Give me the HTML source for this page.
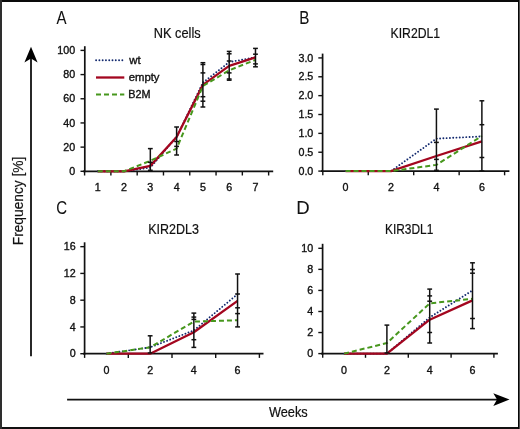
<!DOCTYPE html>
<html><head><meta charset="utf-8"><style>
html,body{margin:0;padding:0;background:#fff;}
body{width:520px;height:429px;overflow:hidden;}
svg{display:block;will-change:transform;}
text{font-family:"Liberation Sans", sans-serif;fill:#111;stroke:#111;stroke-width:0.35px;}
text.L{stroke-width:0.05px;}
text.T{stroke-width:0.2px;}
</style></head><body>
<svg width="520" height="429" viewBox="0 0 520 429">
<rect x="0" y="0" width="520" height="429" fill="#fff"/>
<line x1="84.80" y1="46.20" x2="84.80" y2="172.15" stroke="#111" stroke-width="1.7"/>
<line x1="83.00" y1="171.30" x2="273.20" y2="171.30" stroke="#111" stroke-width="1.7"/>
<line x1="80.50" y1="171.30" x2="84.80" y2="171.30" stroke="#111" stroke-width="1.4"/>
<text x="75.20" y="175.00" font-size="10.7" text-anchor="end">0</text>
<line x1="80.50" y1="147.12" x2="84.80" y2="147.12" stroke="#111" stroke-width="1.4"/>
<text x="75.20" y="150.82" font-size="10.7" text-anchor="end">20</text>
<line x1="80.50" y1="122.94" x2="84.80" y2="122.94" stroke="#111" stroke-width="1.4"/>
<text x="75.20" y="126.64" font-size="10.7" text-anchor="end">40</text>
<line x1="80.50" y1="98.76" x2="84.80" y2="98.76" stroke="#111" stroke-width="1.4"/>
<text x="75.20" y="102.46" font-size="10.7" text-anchor="end">60</text>
<line x1="80.50" y1="74.58" x2="84.80" y2="74.58" stroke="#111" stroke-width="1.4"/>
<text x="75.20" y="78.28" font-size="10.7" text-anchor="end">80</text>
<line x1="80.50" y1="50.40" x2="84.80" y2="50.40" stroke="#111" stroke-width="1.4"/>
<text x="75.20" y="54.10" font-size="10.7" text-anchor="end">100</text>
<line x1="84.60" y1="171.30" x2="84.60" y2="175.50" stroke="#111" stroke-width="1.4"/>
<line x1="110.89" y1="171.30" x2="110.89" y2="175.50" stroke="#111" stroke-width="1.4"/>
<line x1="137.18" y1="171.30" x2="137.18" y2="175.50" stroke="#111" stroke-width="1.4"/>
<line x1="163.47" y1="171.30" x2="163.47" y2="175.50" stroke="#111" stroke-width="1.4"/>
<line x1="189.76" y1="171.30" x2="189.76" y2="175.50" stroke="#111" stroke-width="1.4"/>
<line x1="216.05" y1="171.30" x2="216.05" y2="175.50" stroke="#111" stroke-width="1.4"/>
<line x1="242.34" y1="171.30" x2="242.34" y2="175.50" stroke="#111" stroke-width="1.4"/>
<line x1="268.63" y1="171.30" x2="268.63" y2="175.50" stroke="#111" stroke-width="1.4"/>
<text x="97.74" y="191.00" font-size="10.7" text-anchor="middle">1</text>
<text x="124.03" y="191.00" font-size="10.7" text-anchor="middle">2</text>
<text x="150.32" y="191.00" font-size="10.7" text-anchor="middle">3</text>
<text x="176.62" y="191.00" font-size="10.7" text-anchor="middle">4</text>
<text x="202.90" y="191.00" font-size="10.7" text-anchor="middle">5</text>
<text x="229.19" y="191.00" font-size="10.7" text-anchor="middle">6</text>
<text x="255.48" y="191.00" font-size="10.7" text-anchor="middle">7</text>
<polyline points="97.74,171.30 124.03,171.30 150.32,167.67 176.62,136.84 202.90,82.68 229.19,62.13 255.48,57.29" fill="none" stroke="#12296e" stroke-width="1.9" stroke-linejoin="round" stroke-linecap="round" stroke-dasharray="0.01 3.27"/>
<polyline points="97.74,171.30 124.03,171.30 150.32,165.86 176.62,137.09 202.90,84.86 229.19,65.88 255.48,57.41" fill="none" stroke="#a3061f" stroke-width="2.3" stroke-linejoin="round" stroke-linecap="butt"/>
<polyline points="97.74,171.30 124.03,171.30 150.32,160.78 176.62,148.57 202.90,86.07 229.19,70.35 255.48,59.83" fill="none" stroke="#47971d" stroke-width="2.0" stroke-linejoin="round" stroke-linecap="butt" stroke-dasharray="5 3"/>
<line x1="150.32" y1="148.60" x2="150.32" y2="170.30" stroke="#111" stroke-width="1.5"/>
<line x1="147.92" y1="148.60" x2="152.72" y2="148.60" stroke="#111" stroke-width="1.5"/>
<line x1="147.92" y1="162.30" x2="152.72" y2="162.30" stroke="#111" stroke-width="1.5"/>
<line x1="147.92" y1="170.30" x2="152.72" y2="170.30" stroke="#111" stroke-width="1.5"/>
<line x1="176.62" y1="127.00" x2="176.62" y2="155.00" stroke="#111" stroke-width="1.5"/>
<line x1="174.22" y1="127.00" x2="179.02" y2="127.00" stroke="#111" stroke-width="1.5"/>
<line x1="174.22" y1="141.50" x2="179.02" y2="141.50" stroke="#111" stroke-width="1.5"/>
<line x1="174.22" y1="146.40" x2="179.02" y2="146.40" stroke="#111" stroke-width="1.5"/>
<line x1="174.22" y1="155.00" x2="179.02" y2="155.00" stroke="#111" stroke-width="1.5"/>
<line x1="202.90" y1="62.70" x2="202.90" y2="107.00" stroke="#111" stroke-width="1.5"/>
<line x1="200.50" y1="62.70" x2="205.30" y2="62.70" stroke="#111" stroke-width="1.5"/>
<line x1="200.50" y1="64.50" x2="205.30" y2="64.50" stroke="#111" stroke-width="1.5"/>
<line x1="200.50" y1="72.90" x2="205.30" y2="72.90" stroke="#111" stroke-width="1.5"/>
<line x1="200.50" y1="96.70" x2="205.30" y2="96.70" stroke="#111" stroke-width="1.5"/>
<line x1="200.50" y1="101.20" x2="205.30" y2="101.20" stroke="#111" stroke-width="1.5"/>
<line x1="200.50" y1="107.00" x2="205.30" y2="107.00" stroke="#111" stroke-width="1.5"/>
<line x1="229.19" y1="51.40" x2="229.19" y2="80.20" stroke="#111" stroke-width="1.5"/>
<line x1="226.79" y1="51.40" x2="231.59" y2="51.40" stroke="#111" stroke-width="1.5"/>
<line x1="226.79" y1="53.80" x2="231.59" y2="53.80" stroke="#111" stroke-width="1.5"/>
<line x1="226.79" y1="61.00" x2="231.59" y2="61.00" stroke="#111" stroke-width="1.5"/>
<line x1="226.79" y1="72.90" x2="231.59" y2="72.90" stroke="#111" stroke-width="1.5"/>
<line x1="226.79" y1="79.00" x2="231.59" y2="79.00" stroke="#111" stroke-width="1.5"/>
<line x1="226.79" y1="80.20" x2="231.59" y2="80.20" stroke="#111" stroke-width="1.5"/>
<line x1="255.48" y1="48.40" x2="255.48" y2="66.80" stroke="#111" stroke-width="1.5"/>
<line x1="253.08" y1="48.40" x2="257.88" y2="48.40" stroke="#111" stroke-width="1.5"/>
<line x1="253.08" y1="54.20" x2="257.88" y2="54.20" stroke="#111" stroke-width="1.5"/>
<line x1="253.08" y1="63.90" x2="257.88" y2="63.90" stroke="#111" stroke-width="1.5"/>
<line x1="253.08" y1="66.80" x2="257.88" y2="66.80" stroke="#111" stroke-width="1.5"/>
<text x="56.47" y="23.75" font-size="17.5" textLength="10.06" lengthAdjust="spacingAndGlyphs" class="L">A</text>
<text x="153.75" y="37.65" font-size="14.0" textLength="46.91" lengthAdjust="spacingAndGlyphs" class="T">NK cells</text>
<line x1="322.60" y1="53.60" x2="322.60" y2="171.95" stroke="#111" stroke-width="1.7"/>
<line x1="321.00" y1="171.10" x2="509.40" y2="171.10" stroke="#111" stroke-width="1.7"/>
<line x1="318.30" y1="171.10" x2="322.60" y2="171.10" stroke="#111" stroke-width="1.4"/>
<text x="313.30" y="174.80" font-size="10.7" text-anchor="end">0.0</text>
<line x1="318.30" y1="152.23" x2="322.60" y2="152.23" stroke="#111" stroke-width="1.4"/>
<text x="313.30" y="155.93" font-size="10.7" text-anchor="end">0.5</text>
<line x1="318.30" y1="133.37" x2="322.60" y2="133.37" stroke="#111" stroke-width="1.4"/>
<text x="313.30" y="137.07" font-size="10.7" text-anchor="end">1.0</text>
<line x1="318.30" y1="114.50" x2="322.60" y2="114.50" stroke="#111" stroke-width="1.4"/>
<text x="313.30" y="118.20" font-size="10.7" text-anchor="end">1.5</text>
<line x1="318.30" y1="95.64" x2="322.60" y2="95.64" stroke="#111" stroke-width="1.4"/>
<text x="313.30" y="99.34" font-size="10.7" text-anchor="end">2.0</text>
<line x1="318.30" y1="76.78" x2="322.60" y2="76.78" stroke="#111" stroke-width="1.4"/>
<text x="313.30" y="80.48" font-size="10.7" text-anchor="end">2.5</text>
<line x1="318.30" y1="57.91" x2="322.60" y2="57.91" stroke="#111" stroke-width="1.4"/>
<text x="313.30" y="61.61" font-size="10.7" text-anchor="end">3.0</text>
<line x1="322.80" y1="171.10" x2="322.80" y2="175.30" stroke="#111" stroke-width="1.4"/>
<line x1="368.25" y1="171.10" x2="368.25" y2="175.30" stroke="#111" stroke-width="1.4"/>
<line x1="413.70" y1="171.10" x2="413.70" y2="175.30" stroke="#111" stroke-width="1.4"/>
<line x1="459.15" y1="171.10" x2="459.15" y2="175.30" stroke="#111" stroke-width="1.4"/>
<line x1="504.60" y1="171.10" x2="504.60" y2="175.30" stroke="#111" stroke-width="1.4"/>
<text x="345.53" y="191.00" font-size="10.7" text-anchor="middle">0</text>
<text x="390.98" y="191.00" font-size="10.7" text-anchor="middle">2</text>
<text x="436.43" y="191.00" font-size="10.7" text-anchor="middle">4</text>
<text x="481.88" y="191.00" font-size="10.7" text-anchor="middle">6</text>
<polyline points="345.53,171.10 390.98,171.10 436.43,138.65 481.88,136.39" fill="none" stroke="#12296e" stroke-width="1.9" stroke-linejoin="round" stroke-linecap="round" stroke-dasharray="0.01 3.27"/>
<polyline points="345.53,171.10 390.98,171.10 436.43,156.01 481.88,141.29" fill="none" stroke="#a3061f" stroke-width="2.3" stroke-linejoin="round" stroke-linecap="butt"/>
<polyline points="345.53,171.10 390.98,171.10 436.43,164.87 481.88,136.01" fill="none" stroke="#47971d" stroke-width="2.0" stroke-linejoin="round" stroke-linecap="butt" stroke-dasharray="5 3"/>
<line x1="436.43" y1="109.10" x2="436.43" y2="170.30" stroke="#111" stroke-width="1.5"/>
<line x1="434.03" y1="109.10" x2="438.82" y2="109.10" stroke="#111" stroke-width="1.5"/>
<line x1="434.03" y1="142.40" x2="438.82" y2="142.40" stroke="#111" stroke-width="1.5"/>
<line x1="434.03" y1="159.40" x2="438.82" y2="159.40" stroke="#111" stroke-width="1.5"/>
<line x1="434.03" y1="170.30" x2="438.82" y2="170.30" stroke="#111" stroke-width="1.5"/>
<line x1="481.88" y1="100.80" x2="481.88" y2="171.00" stroke="#111" stroke-width="1.5"/>
<line x1="479.48" y1="100.80" x2="484.27" y2="100.80" stroke="#111" stroke-width="1.5"/>
<line x1="479.48" y1="124.70" x2="484.27" y2="124.70" stroke="#111" stroke-width="1.5"/>
<line x1="479.48" y1="157.50" x2="484.27" y2="157.50" stroke="#111" stroke-width="1.5"/>
<line x1="479.48" y1="171.00" x2="484.27" y2="171.00" stroke="#111" stroke-width="1.5"/>
<text x="299.35" y="23.50" font-size="17.5" textLength="10.15" lengthAdjust="spacingAndGlyphs" class="L">B</text>
<text x="390.50" y="37.90" font-size="14.0" textLength="49.60" lengthAdjust="spacingAndGlyphs" class="T">KIR2DL1</text>
<line x1="84.60" y1="242.30" x2="84.60" y2="354.55" stroke="#111" stroke-width="1.7"/>
<line x1="83.00" y1="353.70" x2="263.50" y2="353.70" stroke="#111" stroke-width="1.7"/>
<line x1="80.30" y1="353.70" x2="84.60" y2="353.70" stroke="#111" stroke-width="1.4"/>
<text x="75.60" y="357.40" font-size="10.7" text-anchor="end">0</text>
<line x1="80.30" y1="326.94" x2="84.60" y2="326.94" stroke="#111" stroke-width="1.4"/>
<text x="75.60" y="330.64" font-size="10.7" text-anchor="end">4</text>
<line x1="80.30" y1="300.18" x2="84.60" y2="300.18" stroke="#111" stroke-width="1.4"/>
<text x="75.60" y="303.88" font-size="10.7" text-anchor="end">8</text>
<line x1="80.30" y1="273.42" x2="84.60" y2="273.42" stroke="#111" stroke-width="1.4"/>
<text x="75.60" y="277.12" font-size="10.7" text-anchor="end">12</text>
<line x1="80.30" y1="246.66" x2="84.60" y2="246.66" stroke="#111" stroke-width="1.4"/>
<text x="75.60" y="250.36" font-size="10.7" text-anchor="end">16</text>
<line x1="84.60" y1="353.70" x2="84.60" y2="357.90" stroke="#111" stroke-width="1.4"/>
<line x1="128.30" y1="353.70" x2="128.30" y2="357.90" stroke="#111" stroke-width="1.4"/>
<line x1="172.00" y1="353.70" x2="172.00" y2="357.90" stroke="#111" stroke-width="1.4"/>
<line x1="215.70" y1="353.70" x2="215.70" y2="357.90" stroke="#111" stroke-width="1.4"/>
<line x1="259.40" y1="353.70" x2="259.40" y2="357.90" stroke="#111" stroke-width="1.4"/>
<text x="106.45" y="373.80" font-size="10.7" text-anchor="middle">0</text>
<text x="150.15" y="373.80" font-size="10.7" text-anchor="middle">2</text>
<text x="193.85" y="373.80" font-size="10.7" text-anchor="middle">4</text>
<text x="237.55" y="373.80" font-size="10.7" text-anchor="middle">6</text>
<polyline points="106.45,353.70 150.15,347.34 193.85,330.42 237.55,294.16" fill="none" stroke="#12296e" stroke-width="1.9" stroke-linejoin="round" stroke-linecap="round" stroke-dasharray="0.01 3.27"/>
<polyline points="106.45,353.70 150.15,353.70 193.85,332.29 237.55,300.85" fill="none" stroke="#a3061f" stroke-width="2.3" stroke-linejoin="round" stroke-linecap="butt"/>
<polyline points="106.45,353.70 150.15,347.34 193.85,321.59 237.55,320.25" fill="none" stroke="#47971d" stroke-width="2.0" stroke-linejoin="round" stroke-linecap="butt" stroke-dasharray="5 3"/>
<line x1="150.15" y1="335.80" x2="150.15" y2="353.00" stroke="#111" stroke-width="1.5"/>
<line x1="147.75" y1="335.80" x2="152.55" y2="335.80" stroke="#111" stroke-width="1.5"/>
<line x1="147.75" y1="353.00" x2="152.55" y2="353.00" stroke="#111" stroke-width="1.5"/>
<line x1="193.85" y1="313.10" x2="193.85" y2="347.40" stroke="#111" stroke-width="1.5"/>
<line x1="191.45" y1="313.10" x2="196.25" y2="313.10" stroke="#111" stroke-width="1.5"/>
<line x1="191.45" y1="317.10" x2="196.25" y2="317.10" stroke="#111" stroke-width="1.5"/>
<line x1="191.45" y1="319.40" x2="196.25" y2="319.40" stroke="#111" stroke-width="1.5"/>
<line x1="191.45" y1="339.70" x2="196.25" y2="339.70" stroke="#111" stroke-width="1.5"/>
<line x1="191.45" y1="347.40" x2="196.25" y2="347.40" stroke="#111" stroke-width="1.5"/>
<line x1="237.55" y1="274.00" x2="237.55" y2="326.90" stroke="#111" stroke-width="1.5"/>
<line x1="235.15" y1="274.00" x2="239.95" y2="274.00" stroke="#111" stroke-width="1.5"/>
<line x1="235.15" y1="294.00" x2="239.95" y2="294.00" stroke="#111" stroke-width="1.5"/>
<line x1="235.15" y1="307.80" x2="239.95" y2="307.80" stroke="#111" stroke-width="1.5"/>
<line x1="235.15" y1="313.60" x2="239.95" y2="313.60" stroke="#111" stroke-width="1.5"/>
<line x1="235.15" y1="326.90" x2="239.95" y2="326.90" stroke="#111" stroke-width="1.5"/>
<text x="56.14" y="213.80" font-size="17.5" textLength="10.83" lengthAdjust="spacingAndGlyphs" class="L">C</text>
<text x="148.18" y="233.80" font-size="14.0" textLength="50.67" lengthAdjust="spacingAndGlyphs" class="T">KIR2DL3</text>
<line x1="322.60" y1="243.80" x2="322.60" y2="354.45" stroke="#111" stroke-width="1.7"/>
<line x1="321.00" y1="353.60" x2="497.90" y2="353.60" stroke="#111" stroke-width="1.7"/>
<line x1="318.30" y1="353.60" x2="322.60" y2="353.60" stroke="#111" stroke-width="1.4"/>
<text x="313.20" y="357.30" font-size="10.7" text-anchor="end">0</text>
<line x1="318.30" y1="332.54" x2="322.60" y2="332.54" stroke="#111" stroke-width="1.4"/>
<text x="313.20" y="336.24" font-size="10.7" text-anchor="end">2</text>
<line x1="318.30" y1="311.48" x2="322.60" y2="311.48" stroke="#111" stroke-width="1.4"/>
<text x="313.20" y="315.18" font-size="10.7" text-anchor="end">4</text>
<line x1="318.30" y1="290.42" x2="322.60" y2="290.42" stroke="#111" stroke-width="1.4"/>
<text x="313.20" y="294.12" font-size="10.7" text-anchor="end">6</text>
<line x1="318.30" y1="269.36" x2="322.60" y2="269.36" stroke="#111" stroke-width="1.4"/>
<text x="313.20" y="273.06" font-size="10.7" text-anchor="end">8</text>
<line x1="318.30" y1="248.30" x2="322.60" y2="248.30" stroke="#111" stroke-width="1.4"/>
<text x="313.20" y="252.00" font-size="10.7" text-anchor="end">10</text>
<line x1="322.70" y1="353.60" x2="322.70" y2="357.80" stroke="#111" stroke-width="1.4"/>
<line x1="365.50" y1="353.60" x2="365.50" y2="357.80" stroke="#111" stroke-width="1.4"/>
<line x1="408.30" y1="353.60" x2="408.30" y2="357.80" stroke="#111" stroke-width="1.4"/>
<line x1="451.10" y1="353.60" x2="451.10" y2="357.80" stroke="#111" stroke-width="1.4"/>
<line x1="493.90" y1="353.60" x2="493.90" y2="357.80" stroke="#111" stroke-width="1.4"/>
<text x="344.10" y="373.80" font-size="10.7" text-anchor="middle">0</text>
<text x="386.90" y="373.80" font-size="10.7" text-anchor="middle">2</text>
<text x="429.70" y="373.80" font-size="10.7" text-anchor="middle">4</text>
<text x="472.50" y="373.80" font-size="10.7" text-anchor="middle">6</text>
<polyline points="344.10,353.60 386.90,353.60 429.70,317.38 472.50,290.42" fill="none" stroke="#12296e" stroke-width="1.9" stroke-linejoin="round" stroke-linecap="round" stroke-dasharray="0.01 3.27"/>
<polyline points="344.10,353.60 386.90,353.60 429.70,319.69 472.50,300.42" fill="none" stroke="#a3061f" stroke-width="2.3" stroke-linejoin="round" stroke-linecap="butt"/>
<polyline points="344.10,353.60 386.90,343.07 429.70,303.37 472.50,298.84" fill="none" stroke="#47971d" stroke-width="2.0" stroke-linejoin="round" stroke-linecap="butt" stroke-dasharray="5 3"/>
<line x1="386.90" y1="325.10" x2="386.90" y2="353.00" stroke="#111" stroke-width="1.5"/>
<line x1="384.50" y1="325.10" x2="389.30" y2="325.10" stroke="#111" stroke-width="1.5"/>
<line x1="384.50" y1="353.00" x2="389.30" y2="353.00" stroke="#111" stroke-width="1.5"/>
<line x1="429.70" y1="289.10" x2="429.70" y2="343.00" stroke="#111" stroke-width="1.5"/>
<line x1="427.30" y1="289.10" x2="432.10" y2="289.10" stroke="#111" stroke-width="1.5"/>
<line x1="427.30" y1="295.90" x2="432.10" y2="295.90" stroke="#111" stroke-width="1.5"/>
<line x1="427.30" y1="301.20" x2="432.10" y2="301.20" stroke="#111" stroke-width="1.5"/>
<line x1="427.30" y1="332.50" x2="432.10" y2="332.50" stroke="#111" stroke-width="1.5"/>
<line x1="427.30" y1="343.00" x2="432.10" y2="343.00" stroke="#111" stroke-width="1.5"/>
<line x1="472.50" y1="262.80" x2="472.50" y2="328.60" stroke="#111" stroke-width="1.5"/>
<line x1="470.10" y1="262.80" x2="474.90" y2="262.80" stroke="#111" stroke-width="1.5"/>
<line x1="470.10" y1="269.50" x2="474.90" y2="269.50" stroke="#111" stroke-width="1.5"/>
<line x1="470.10" y1="273.20" x2="474.90" y2="273.20" stroke="#111" stroke-width="1.5"/>
<line x1="470.10" y1="318.50" x2="474.90" y2="318.50" stroke="#111" stroke-width="1.5"/>
<line x1="470.10" y1="328.60" x2="474.90" y2="328.60" stroke="#111" stroke-width="1.5"/>
<text x="296.18" y="213.70" font-size="17.5" textLength="13.41" lengthAdjust="spacingAndGlyphs" class="L">D</text>
<text x="385.02" y="233.80" font-size="14.0" textLength="48.26" lengthAdjust="spacingAndGlyphs" class="T">KIR3DL1</text>
<line x1="96.10" y1="60.30" x2="123.50" y2="60.30" stroke="#12296e" stroke-width="1.9" stroke-dasharray="0.01 3.27" stroke-linecap="round"/>
<line x1="96.00" y1="77.50" x2="124.30" y2="77.50" stroke="#a3061f" stroke-width="2.3"/>
<line x1="96.00" y1="94.60" x2="124.30" y2="94.60" stroke="#47971d" stroke-width="2.0" stroke-dasharray="5 3"/>
<text x="129.22" y="63.50" font-size="10.7" textLength="11.37" lengthAdjust="spacingAndGlyphs">wt</text>
<text x="128.72" y="80.60" font-size="10.7" textLength="30.80" lengthAdjust="spacingAndGlyphs">empty</text>
<text x="128.31" y="97.70" font-size="10.7" textLength="22.28" lengthAdjust="spacingAndGlyphs">B2M</text>
<line x1="31.00" y1="356.20" x2="31.00" y2="58.00" stroke="#111" stroke-width="1.8"/>
<polygon points="31,46.8 24.4,62.6 31,58.6 37.6,62.6" fill="#000"/>
<line x1="67.10" y1="399.60" x2="498.00" y2="399.60" stroke="#111" stroke-width="1.9"/>
<polygon points="509.5,399.6 493.3,393.2 497,399.6 493.3,406.0" fill="#000"/>
<text x="-245.23" y="22.85" font-size="14.4" textLength="88.50" lengthAdjust="spacingAndGlyphs" class="T" transform="rotate(-90)">Frequency [%]</text>
<text x="268.94" y="416.70" font-size="14.4" textLength="38.81" lengthAdjust="spacingAndGlyphs" class="T">Weeks</text>
<rect x="0" y="0" width="520" height="2" fill="#0a0a0a"/>
<rect x="0" y="427" width="520" height="2" fill="#111"/>
<rect x="0" y="0" width="2" height="429" fill="#2e2e2e"/>
<rect x="518" y="0" width="1" height="429" fill="#060606"/>
<rect x="519" y="0" width="1" height="429" fill="#505050"/>
</svg>
</body></html>
